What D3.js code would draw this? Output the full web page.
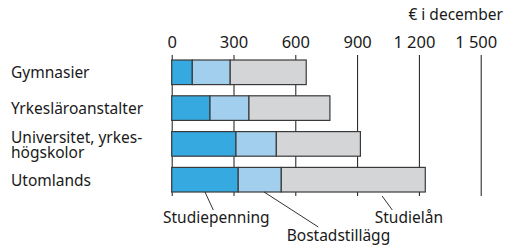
<!DOCTYPE html>
<meta charset="utf-8">
<style>* {padding:0; margin:0; border:0;} body {background:#fff;}</style>
<body>
<script src="https://cdn.jsdelivr.net/npm/d3@7"></script>
<script>

categories = [["Gymnasier"], ["Yrkesläroanstalter"], ["Universitet, yrkes-", "högskolor"], ["Utomlands"]]
series = ["Studiepenning", "Bostadstillägg", "Studielån"]
studiepenning = [100, 186, 312, 323]
bostadstillagg = [184, 189, 196, 209]
studielan = [369, 393, 408, 699]
ticks = [0, 300, 600, 900, 1200, 1500]
unitLabel = "€ i december"

colors = ["#36a9e1", "#a3cfee", "#d4d5d7"]
font = "'Noto Sans', sans-serif"

width = 505
height = 249

rows = categories.map(function(c, i){
  return {name: c.join(" "), lines: c, Studiepenning: studiepenning[i], "Bostadstillägg": bostadstillagg[i], "Studielån": studielan[i]}
})

x = d3.scaleLinear().domain([0, 1500]).range([171.7, 480.7])
y = d3.scaleBand().domain(rows.map(function(d){return d.name})).range([60, 192]).paddingInner(0.313)

svg = d3.select("body").append("svg")
  .attr("width", width)
  .attr("height", height)
  .style("font-family", font)

// axis on top, tick lines run down as grid
gridTop = 55
gridBottom = 196
axis = svg.append("g")
  .attr("transform", "translate(0," + gridTop + ")")
  .call(d3.axisTop(x).tickValues(ticks).tickSize(-(gridBottom - gridTop)).tickPadding(7)
    .tickFormat(function(d){ return d3.format(",")(d).replace(",", " ") }))
axis.select(".domain").remove()
axis.selectAll("line").attr("stroke", "#1a1a1a").attr("stroke-width", 1)
axis.selectAll("text")
  .attr("fill", "#1a1a1a")
  .attr("font-size", 16.5)
  .attr("font-family", font)
  .attr("dx", function(d){ return d >= 1000 ? -5 : 0 })

svg.append("text")
  .attr("x", 503)
  .attr("y", 20)
  .attr("text-anchor", "end")
  .attr("font-size", 15.5)
  .attr("fill", "#1a1a1a")
  .text(unitLabel)

stacked = d3.stack().keys(series)(rows)

svg.append("g").selectAll("g")
  .data(stacked)
  .enter().append("g")
    .attr("fill", function(d, i){ return colors[i] })
  .selectAll("rect")
  .data(function(d){ return d })
  .enter().append("rect")
    .attr("x", function(d){ return x(d[0]) })
    .attr("y", function(d){ return y(d.data.name) })
    .attr("width", function(d){ return x(d[1]) - x(d[0]) })
    .attr("height", y.bandwidth())
    .attr("stroke", "#3a3a3a")
    .attr("stroke-width", 1.2)

// category labels
lineGap = 15
labels = svg.append("g").selectAll("text")
  .data(rows)
  .enter().append("text")
    .attr("x", 11)
    .attr("y", function(d){ return y(d.name) + y.bandwidth() / 2 + 6 - (d.lines.length - 1) * 7 })
    .attr("font-size", 15.5)
    .attr("fill", "#1a1a1a")
labels.selectAll("tspan")
  .data(function(d){ return d.lines })
  .enter().append("tspan")
    .attr("x", 11)
    .attr("dy", function(d, i){ return i ? lineGap : 0 })
    .text(function(d){ return d })

// legend with leader lines, pointing into the last bar
last = rows[rows.length - 1]
legendAt = [0.5, 0.6, 0.7]           // share of segment where line starts
legendText = [[163, 223.3, "start"], [286.7, 241, "start"], [443, 223.3, "end"]]
legendEnd = [[213.3, 210], [318.3, 227], [392.3, 210]]
lastStack = stacked.map(function(s){ return s[rows.length - 1] })

leg = svg.append("g")
leg.selectAll("line")
  .data(series)
  .enter().append("line")
    .attr("x1", function(d, i){ var s = lastStack[i]; return x(s[0] + (s[1] - s[0]) * legendAt[i]) })
    .attr("y1", function(d, i){ return y(last.name) + y.bandwidth() + (i == 2 ? 4 : 0) })
    .attr("x2", function(d, i){ return legendEnd[i][0] })
    .attr("y2", function(d, i){ return legendEnd[i][1] })
    .attr("stroke", "#1a1a1a")
    .attr("stroke-width", 0.9)
leg.selectAll("text")
  .data(series)
  .enter().append("text")
    .attr("x", function(d, i){ return legendText[i][0] })
    .attr("y", function(d, i){ return legendText[i][1] })
    .attr("text-anchor", function(d, i){ return legendText[i][2] })
    .attr("font-size", 15.5)
    .attr("fill", "#1a1a1a")
    .text(function(d){ return d })

</script>
